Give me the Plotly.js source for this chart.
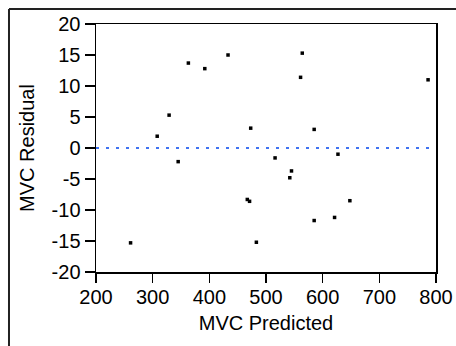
<!DOCTYPE html>
<html>
<head>
<meta charset="utf-8">
<script src="https://cdn.plot.ly/plotly-3.0.1.min.js"></script>
<style>html,body{margin:0;padding:0;background:#fff;}#chart{width:456px;height:346px;}</style>
</head>
<body>
<div id="chart"></div>
<script>
var mvcPredicted = [261, 308, 329, 345, 363, 392, 433, 467, 471, 473, 483, 516, 542, 545, 561, 564, 585, 585, 621, 627, 648, 786];
var mvcResidual  = [-15.3, 1.9, 5.3, -2.2, 13.7, 12.8, 15.0, -8.3, -8.6, 3.2, -15.2, -1.6, -4.8, -3.7, 11.4, 15.3, 3.0, -11.7, -11.2, -1.0, -8.5, 11.0];
var xTicks = [200, 300, 400, 500, 600, 700, 800];
var yTicks = [-20, -15, -10, -5, 0, 5, 10, 15, 20];

var font = {family: 'Liberation Sans, Arial, sans-serif', size: 20, color: '#000'};

var trace = {
  x: mvcPredicted, y: mvcResidual, type: 'scatter', mode: 'markers',
  marker: {symbol: 'square', size: 3.5, color: '#000', line: {width: 0}},
  cliponaxis: false, hoverinfo: 'none'
};

var layout = {
  width: 456, height: 346,
  margin: {l: 96, r: 20, t: 24, b: 74},
  paper_bgcolor: '#fff', plot_bgcolor: '#fff',
  showlegend: false,
  font: font,
  xaxis: {
    range: [200, 800], tickvals: xTicks, ticktext: xTicks.map(String),
    showgrid: false, zeroline: false,
    showline: true, mirror: true, linecolor: '#000', linewidth: 1.5,
    ticks: 'outside', ticklen: 9, tickwidth: 1.2, tickcolor: '#000',
    tickfont: font, ticklabelstandoff: -3,
    title: {text: 'MVC Predicted', font: font, standoff: 9}
  },
  yaxis: {
    range: [-20, 20], tickvals: yTicks, ticktext: yTicks.map(String),
    showgrid: false, zeroline: false,
    showline: true, mirror: true, linecolor: '#000', linewidth: 1.5,
    ticks: 'outside', ticklen: 10, tickwidth: 1.2, tickcolor: '#000',
    tickfont: font,
    title: {text: 'MVC Residual', font: font, standoff: 11}
  },
  shapes: [
    {type: 'line', xref: 'paper', yref: 'y', x0: 0, x1: 1, y0: 0, y1: 0,
     line: {color: '#3f72f0', width: 2, dash: '3px,7px'}, layer: 'below'},
    {type: 'line', xref: 'paper', yref: 'paper', x0: -0.2559, x1: 1.06, y0: 1.0605, y1: 1.0605,
     line: {color: '#222', width: 2}},
    {type: 'line', xref: 'paper', yref: 'paper', x0: -0.2559, x1: -0.2559, y0: 1.0605, y1: -0.31,
     line: {color: '#222', width: 2}}
  ]
};

Plotly.newPlot('chart', [trace], layout, {staticPlot: true, displayModeBar: false});
</script>
</body>
</html>
